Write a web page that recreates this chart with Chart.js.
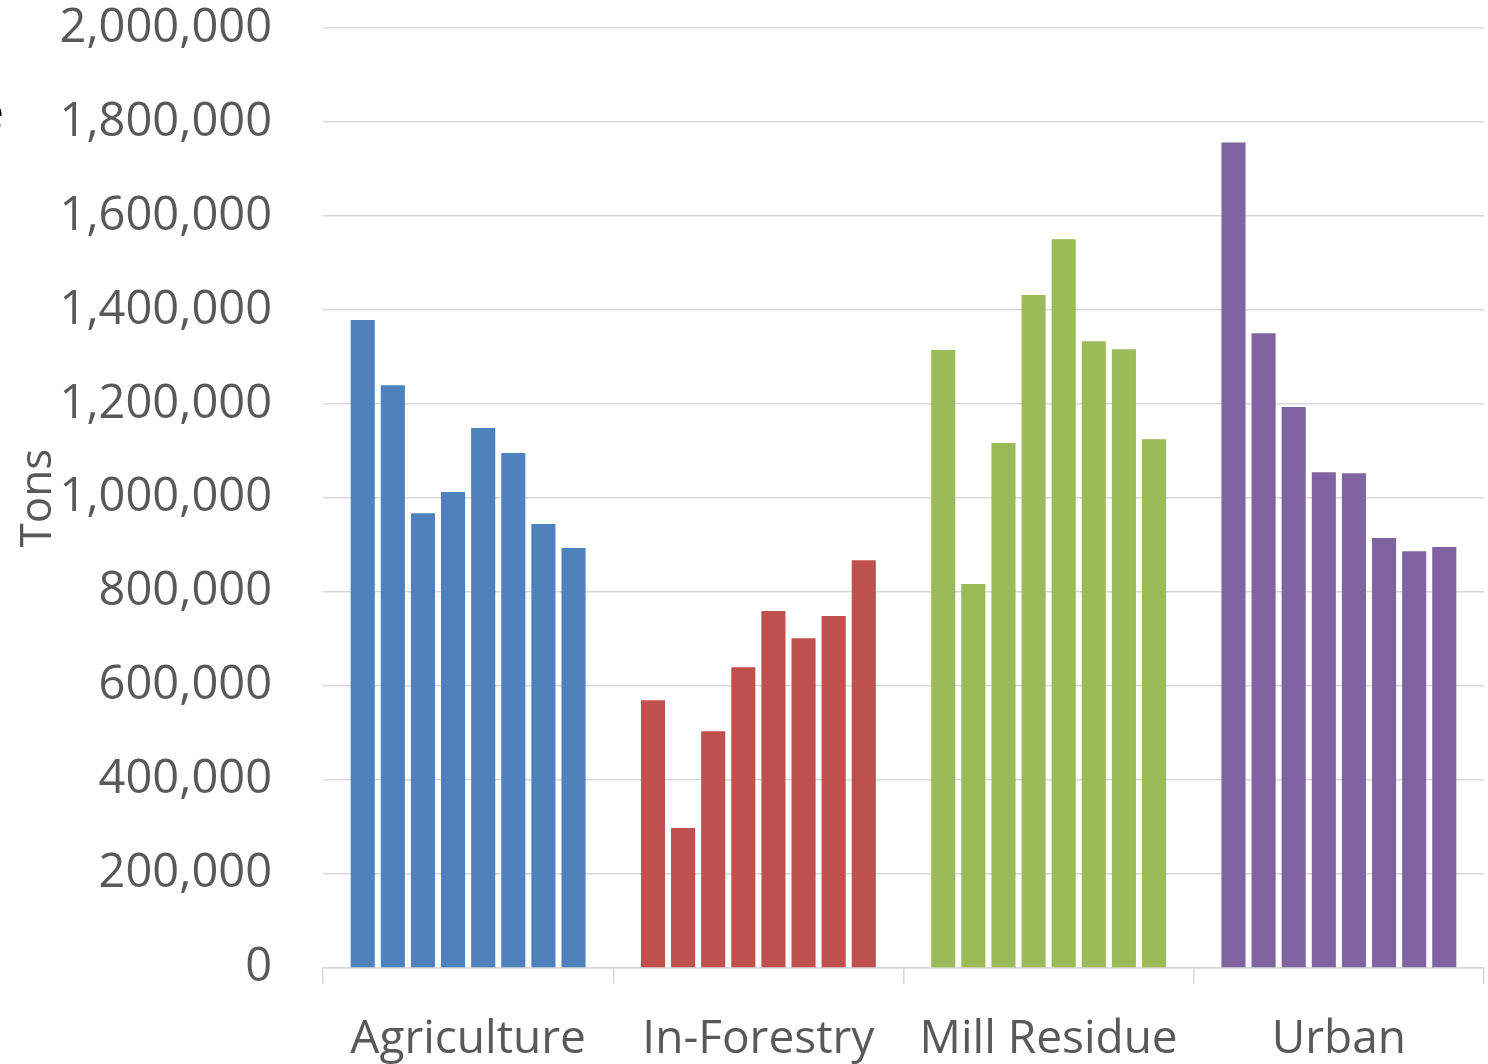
<!DOCTYPE html>
<html>
<head>
<meta charset="utf-8">
<title>Tons by source</title>
<script src="https://cdn.jsdelivr.net/npm/chart.js@4"></script>
<style>
  body { margin: 0; background: #fff; overflow: hidden; }
  #wrap { position: relative; width: 1488px; height: 1064px; overflow: hidden; }
  #cut { position: absolute; left: -23px; top: 78px; font: 48px "Open Sans"; color: #000; }
</style>
</head>
<body>
<div id="wrap">
  <canvas id="chart"></canvas>
  <div id="cut">e</div>
</div>
<script>
const categories = ["Agriculture", "In-Forestry", "Mill Residue", "Urban"];
// 8 bars per category, left to right
const agriculture = [1379000, 1240000, 968000, 1013000, 1149000, 1096000, 945000, 894000];
const forestry    = [570000, 298000, 504000, 640000, 760000, 702000, 749000, 868000];
const millResidue = [1315000, 817000, 1117000, 1432000, 1551000, 1334000, 1317000, 1125000];
const urban       = [1757000, 1351000, 1194000, 1055000, 1053000, 915000, 887000, 896000];
const colors = ["#4F81BD", "#C0504D", "#9BBB59", "#8064A2"];

const datasets = [];
for (let i = 0; i < 8; i++) {
    datasets.push({
        label: "Series " + (i + 1),
        data: [agriculture[i], forestry[i], millResidue[i], urban[i]],
        backgroundColor: colors,
        borderWidth: 0,
        categoryPercentage: 0.83,
        barPercentage: 0.8
    });
}

const textColor = "#595959";
const ctx = document.getElementById("chart").getContext("2d");
const chart = new Chart(ctx, {
    type: "bar",
    data: { labels: categories, datasets: datasets },
    options: {
        responsive: true,
        maintainAspectRatio: false,
        animation: false,
        layout: { padding: { left: 0, right: 4, top: 0, bottom: 0 } },
        plugins: {
            legend: { display: false },
            tooltip: { enabled: false }
        },
        scales: {
            x: {
                afterFit: function(scale) { scale.height = 96; },
                grid: {
                    offset: true,
                    drawOnChartArea: false,
                    drawTicks: true,
                    tickLength: 16,
                    color: "#d9d9d9",
                    lineWidth: 1.5
                },
                border: { display: true, color: "#d9d9d9", width: 1.5 },
                ticks: {
                    color: textColor,
                    font: { family: "Open Sans", size: 46 },
                    padding: 28
                }
            },
            y: {
                min: 0,
                max: 2000000,
                afterFit: function(scale) { scale.width = 323; },
                grid: {
                    drawTicks: true,
                    tickLength: 51,
                    tickColor: "rgba(0,0,0,0)",
                    color: "#d9d9d9",
                    lineWidth: 1.5
                },
                border: { display: false },
                ticks: {
                    stepSize: 200000,
                    color: textColor,
                    font: { family: "Open Sans", size: 47 },
                    padding: 0,
                    callback: function(v) { return v.toLocaleString("en-US"); }
                },
                title: {
                    display: true,
                    text: "Tons",
                    color: textColor,
                    font: { family: "Open Sans", size: 44 },
                    padding: { top: 12, bottom: 0 }
                }
            }
        }
    }
});
</script>
</body>
</html>
